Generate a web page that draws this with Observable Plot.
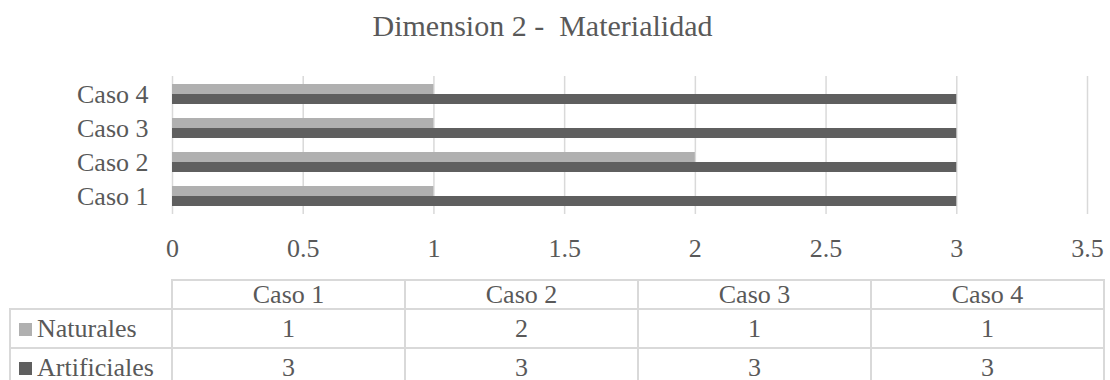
<!DOCTYPE html>
<html>
<head>
<meta charset="utf-8">
<script src="https://cdn.jsdelivr.net/npm/d3@7"></script>
<script src="https://cdn.jsdelivr.net/npm/@observablehq/plot@0.6"></script>
<style>
  html, body { margin: 0; padding: 0; background: #ffffff; }
  body { font-family: 'Liberation Serif'; }
  #wrap { position: relative; width: 1110px; height: 380px; overflow: hidden; font-family: 'Liberation Serif'; color: #595959; }
  #title { position: absolute; left: 0; top: 11px; width: 1085px; text-align: center; font-size: 30px; line-height: 1; white-space: pre; font-family: 'Liberation Serif'; }
  #chart { position: absolute; left: 0; top: 50px; }
  table { position: absolute; left: 9px; top: 279px; border-collapse: collapse; table-layout: fixed; font-size: 26px; color: #595959; font-family: 'Liberation Serif'; }
  td { border: 2px solid #d9d9d9; text-align: center; padding: 0; line-height: 1; vertical-align: middle; white-space: nowrap; font-family: 'Liberation Serif'; }
  td.lab { text-align: left; padding-left: 8px; }
  td.blank { border-top: none; border-left: none; }
  .key { display: inline-block; width: 13px; height: 13px; margin-right: 5px; vertical-align: 1px; }
</style>
</head>
<body>
<div id="wrap">
  <div id="title"></div>
  <div id="chart"></div>
</div>
<script>
const titleText = "Dimension 2 -  Materialidad";
const casos = ["Caso 1", "Caso 2", "Caso 3", "Caso 4"];
const series = ["Naturales", "Artificiales"];
const naturales = [1, 2, 1, 1];
const artificiales = [3, 3, 3, 3];
const xTicks = [0, 0.5, 1, 1.5, 2, 2.5, 3, 3.5];
const colors = ["#b0b0b0", "#5f5f5f"];
const FONT = "Liberation Serif";

document.getElementById("title").textContent = titleText;

const natData = casos.map((c, i) => ({caso: c, value: naturales[i]}));
const artData = casos.map((c, i) => ({caso: c, value: artificiales[i]}));

const chart = Plot.plot({
  width: 1110,
  height: 220,
  marginTop: 26,
  marginBottom: 56,
  marginLeft: 172,
  marginRight: 23,
  style: {fontFamily: FONT, fontSize: "26px", color: "#595959", background: "transparent", overflow: "visible"},
  x: {domain: [0, 3.5]},
  y: {domain: casos.slice().reverse(), paddingInner: 0.42, paddingOuter: 0.21},
  marks: [
    Plot.gridX(xTicks, {stroke: "#d9d9d9", strokeOpacity: 1, strokeWidth: 1.5}),
    Plot.barX(natData, {x: "value", y: "caso", fill: colors[0], insetBottom: 10}),
    Plot.barX(artData, {x: "value", y: "caso", fill: colors[1], insetTop: 10}),
    Plot.axisX({ticks: xTicks, tickSize: 0, tickPadding: 24, label: null, tickFormat: d => String(d), fontSize: 26}),
    Plot.axisY({tickSize: 0, tickPadding: 24, label: null, fontSize: 26})
  ]
});
document.getElementById("chart").appendChild(chart);

// data table below the chart
const table = document.createElement("table");
const colgroup = document.createElement("colgroup");
[162, 233, 233, 233, 233].forEach(w => {
  const col = document.createElement("col");
  col.style.width = w + "px";
  colgroup.appendChild(col);
});
table.appendChild(colgroup);

const head = document.createElement("tr");
head.style.height = "29px";
const blank = document.createElement("td");
blank.className = "blank";
head.appendChild(blank);
casos.forEach(c => {
  const td = document.createElement("td");
  td.textContent = c;
  head.appendChild(td);
});
table.appendChild(head);

[naturales, artificiales].forEach((vals, si) => {
  const tr = document.createElement("tr");
  tr.style.height = "39px";
  const lab = document.createElement("td");
  lab.className = "lab";
  const key = document.createElement("span");
  key.className = "key";
  key.style.background = colors[si];
  lab.appendChild(key);
  lab.appendChild(document.createTextNode(series[si]));
  tr.appendChild(lab);
  vals.forEach(v => {
    const td = document.createElement("td");
    td.textContent = String(v);
    tr.appendChild(td);
  });
  table.appendChild(tr);
});
document.getElementById("wrap").appendChild(table);
document.querySelectorAll("#wrap, #wrap *").forEach(el => { if (el.style) el.style.fontFamily = FONT; });
</script>
</body>
</html>
